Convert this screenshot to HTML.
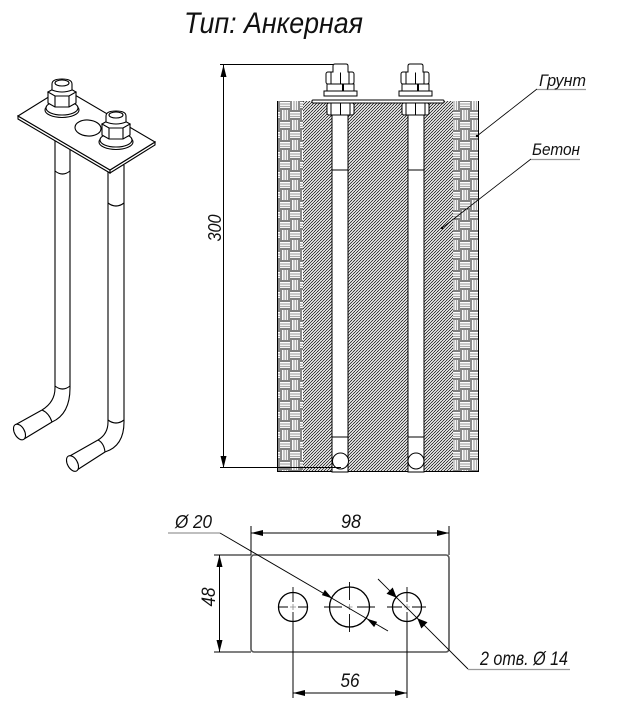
<!DOCTYPE html>
<html><head><meta charset="utf-8"><style>
html,body{margin:0;padding:0;background:#fff;}
svg{display:block;}
text{font-family:"Liberation Sans",sans-serif;font-style:italic;fill:#111;}
</style></head><body>
<svg width="621" height="712" viewBox="0 0 621 712" xmlns="http://www.w3.org/2000/svg">
<defs>
<pattern id="conc" width="3" height="3" patternUnits="userSpaceOnUse">
<rect width="3" height="3" fill="#fff"/>
<path d="M0,3 L3,0 M-1,1 L1,-1 M2,4 L4,2" stroke="#000" stroke-width="0.75"/>
<path d="M0,0 L3,3" stroke="#999" stroke-width="0.35"/>
</pattern>
<pattern id="soil" width="20" height="20" patternUnits="userSpaceOnUse">
<rect width="20" height="20" fill="#fff"/>
<path d="M0,1 H10 M0,9 H10 M10,11 H20 M10,19 H20" stroke="#000" stroke-width="0.9"/>
<path d="M0,4 H10 M0,6.5 H10 M10,14 H20 M10,16.5 H20" stroke="#aaa" stroke-width="1.3"/>
<path d="M11,0 V10 M19,0 V10 M1,10 V20 M9,10 V20" stroke="#000" stroke-width="0.9"/>
<path d="M14,0 V10 M16.5,0 V10 M4,10 V20 M6.5,10 V20" stroke="#aaa" stroke-width="1.3"/>
</pattern>
</defs>

<!-- Title -->
<text x="184" y="33" font-size="30" textLength="179" lengthAdjust="spacingAndGlyphs">Тип: Анкерная</text>

<!-- ===== Left isometric ===== -->
<g stroke="#000" stroke-width="1.1" fill="none">
 <path d="M55,125 V388 M70,125 V388"/>
 <path d="M55,171 Q62.5,177 70,171"/>
 <path d="M55,386 Q62.5,392 70,386"/>
 <path d="M55,388 Q55,402 42,410 M70,388 Q70,414 52,422"/>
 <path d="M42,410 Q49,413 52,422"/>
 <path d="M42,410 L15,425 M52,422 L24,439"/>
 <ellipse cx="19.5" cy="432" rx="8.5" ry="5" transform="rotate(61 19.5 432)" fill="#fff"/>
 <path d="M108,165 V422 M124,165 V422"/>
 <path d="M108,203 Q116,209 124,203"/>
 <path d="M108,420 Q116,426 124,420"/>
 <path d="M108,422 Q108,434 98,440 M124,422 Q124,446 105,452"/>
 <path d="M98,440 Q104,443 105,452"/>
 <path d="M98,440 L68,457 M105,452 L77,470"/>
 <ellipse cx="72.5" cy="463.5" rx="8.5" ry="5" transform="rotate(61 72.5 463.5)" fill="#fff"/>
 <polygon points="18,116 110,170 110,173 18,119" fill="#fff"/>
 <polygon points="110,170 155,142 155,145 110,173" fill="#fff"/>
 <polygon points="18,116 63,88 155,142 110,170" fill="#fff"/>
 <ellipse cx="88" cy="128" rx="13" ry="8" transform="rotate(4 88 128)" fill="#fff"/>
</g>
<g stroke="#000" stroke-width="1.1" fill="#fff">
 <ellipse cx="62" cy="110" rx="17" ry="7.5"/>
 <ellipse cx="62" cy="108" rx="16" ry="7"/>
 <path d="M48,92 L48,103 L55,107 L69,107 L76,103 L76,92 Z"/>
 <path d="M48,92 L55,88 L69,88 L76,92 L69,96 L55,96 Z"/>
 <path d="M55,96 V107 M69,96 V107" fill="none"/>
 <path d="M52,90 L52,84 Q52,79 62,79 Q72,79 72,84 L72,90 Q62,94 52,90 Z"/>
 <ellipse cx="62" cy="83" rx="7" ry="3"/>
</g>
<g transform="translate(54,32)" stroke="#000" stroke-width="1.1" fill="#fff">
 <ellipse cx="62" cy="110" rx="17" ry="7.5"/>
 <ellipse cx="62" cy="108" rx="16" ry="7"/>
 <path d="M48,92 L48,103 L55,107 L69,107 L76,103 L76,92 Z"/>
 <path d="M48,92 L55,88 L69,88 L76,92 L69,96 L55,96 Z"/>
 <path d="M55,96 V107 M69,96 V107" fill="none"/>
 <path d="M52,90 L52,84 Q52,79 62,79 Q72,79 72,84 L72,90 Q62,94 52,90 Z"/>
 <ellipse cx="62" cy="83" rx="7" ry="3"/>
</g>

<!-- ===== Main section ===== -->
<rect x="277" y="101" width="26" height="371" fill="url(#soil)"/>
<rect x="453" y="101" width="26" height="371" fill="url(#soil)"/>
<rect x="303" y="101" width="150" height="371" fill="url(#conc)"/>
<g stroke="#000" stroke-width="1" fill="none">
 <path d="M277.5,101 V472 M478.5,101 V472 M277,471.5 H479"/>
</g>
<g stroke="#000" stroke-width="1" fill="#fff">
 <rect x="332" y="103" width="16" height="369"/>
 <rect x="408" y="103" width="16" height="369"/>
 <path d="M332,170 H348 M408,170 H424 M332,437 H348 M408,437 H424" fill="none"/>
 <circle cx="340.5" cy="461" r="8"/>
 <circle cx="416" cy="461" r="8"/>
 <rect x="327" y="103" width="27" height="12" rx="2"/>
 <path d="M331,103 V115 M340.5,103 V115 M350,103 V115" fill="none"/>
 <rect x="402" y="103" width="27" height="12" rx="2"/>
 <path d="M406,103 V115 M415.5,103 V115 M425,103 V115" fill="none"/>
 <rect x="312" y="100" width="132" height="3" rx="1"/>
 <rect x="324" y="91" width="33" height="5"/>
 <rect x="327" y="84" width="27" height="7"/>
 <path d="M343,84 V91" stroke-width="2" fill="none"/>
 <rect x="326" y="72" width="28" height="12" rx="2"/>
 <path d="M331,72 V84 M340.5,72 V84 M349,72 V84" fill="none"/>
 <path d="M333,72.5 V66 Q333,64 335,64 H346 Q348,64 348,66 V72.5"/>
 <rect x="399" y="91" width="33" height="5"/>
 <rect x="402" y="84" width="27" height="7"/>
 <path d="M418,84 V91" stroke-width="2" fill="none"/>
 <rect x="401" y="72" width="28" height="12" rx="2"/>
 <path d="M406,72 V84 M415.5,72 V84 M424,72 V84" fill="none"/>
 <path d="M408,72.5 V66 Q408,64 410,64 H421 Q423,64 423,66 V72.5"/>
</g>

<!-- dimension 300 -->
<g stroke="#000" stroke-width="1" fill="none">
 <path d="M220,64.5 H333 M220,467.5 H341 M223.5,65 V468"/>
</g>
<polygon points="223.5,65 220.5,77 226.5,77" fill="#000"/>
<polygon points="223.5,468 220.5,456 226.5,456" fill="#000"/>
<text transform="translate(221,228) rotate(-90)" font-size="18" text-anchor="middle" textLength="27" lengthAdjust="spacingAndGlyphs">300</text>

<!-- labels -->
<g stroke="#000" stroke-width="0.8" fill="none">
 <path d="M537,89 L477,136"/>
 <path d="M531,159 L442,228"/>
</g>
<path d="M537,89.5 H586 M531,159.5 H580" stroke="#999" stroke-width="1.2"/>
<circle cx="477" cy="136" r="1.2" fill="#000"/>
<circle cx="442" cy="228" r="1.2" fill="#000"/>
<text x="539" y="86" font-size="17" textLength="47" lengthAdjust="spacingAndGlyphs">Грунт</text>
<text x="532" y="155" font-size="17" textLength="48" lengthAdjust="spacingAndGlyphs">Бетон</text>

<!-- ===== Bottom plate drawing ===== -->
<rect x="251" y="555" width="198" height="97" rx="3" fill="none" stroke="#555" stroke-width="1.6"/>
<g stroke="#000" stroke-width="1" fill="none">
 <path d="M251,526 V555 M449,526 V555 M251,533 H449"/>
 <path d="M214,555 H251 M214,652 H251 M219.5,555 V652"/>
 <path d="M293,621 V698 M407,621 V698 M293,693 H407"/>
</g>
<polygon points="251,533 263,530 263,536" fill="#000"/>
<polygon points="449,533 437,530 437,536" fill="#000"/>
<polygon points="219.5,555 216.5,567 222.5,567" fill="#000"/>
<polygon points="219.5,652 216.5,640 222.5,640" fill="#000"/>
<polygon points="293,693 305,690 305,696" fill="#000"/>
<polygon points="407,693 395,690 395,696" fill="#000"/>
<text x="351" y="528" font-size="19" text-anchor="middle" textLength="20" lengthAdjust="spacingAndGlyphs">98</text>
<text transform="translate(215,597) rotate(-90)" font-size="19" text-anchor="middle" textLength="19" lengthAdjust="spacingAndGlyphs">48</text>
<text x="350" y="687" font-size="19" text-anchor="middle" textLength="19" lengthAdjust="spacingAndGlyphs">56</text>

<!-- holes -->
<g stroke="#000" stroke-width="1.3" fill="none">
 <circle cx="293" cy="607" r="14.5"/>
 <circle cx="349.5" cy="607" r="20"/>
 <circle cx="407" cy="607" r="14.5"/>
</g>
<g stroke="#000" stroke-width="0.9" fill="none">
 <path d="M278,607 H288 M298,607 H308 M293,587 V602 M293,612 V621"/>
 <path d="M324,607 H342 M357,607 H375 M349.5,582 V600 M349.5,614 V632"/>
 <path d="M387,607 H402 M412,607 H426 M407,587 V602 M407,612 V621"/>
</g>
<g stroke="#888" stroke-width="0.8">
 <path d="M290,607 H296 M293,604 V610 M346.5,607 H352.5 M349.5,604 V610 M404,607 H410 M407,604 V610"/>
</g>

<!-- leader Ø20 -->
<path d="M168,533 H220" stroke="#999" stroke-width="1.2"/>
<path d="M220,533 L388,631" stroke="#000" stroke-width="0.9" fill="none"/>
<polygon points="332.2,598.4 321.9,595.1 324.9,589.9" fill="#000"/>
<polygon points="366.8,618.6 377.1,621.9 374.1,627.1" fill="#000"/>
<text x="175" y="528" font-size="18" textLength="37" lengthAdjust="spacingAndGlyphs">Ø 20</text>

<!-- leader 2 отв Ø14 -->
<path d="M378,579 L468,669" stroke="#000" stroke-width="0.9" fill="none"/>
<path d="M468,669.5 H570" stroke="#999" stroke-width="1.2"/>
<polygon points="396.7,597.7 386.5,593.7 392.7,587.5" fill="#000"/>
<polygon points="417.3,618.3 427.5,622.3 421.3,628.5" fill="#000"/>
<text x="480" y="665" font-size="19" textLength="88" lengthAdjust="spacingAndGlyphs">2 отв. Ø 14</text>
</svg>
</body></html>
